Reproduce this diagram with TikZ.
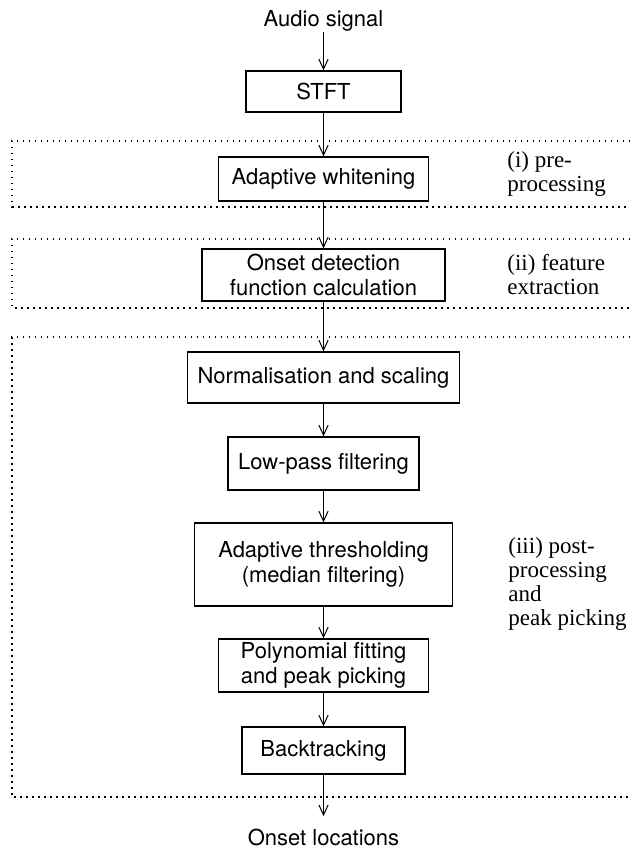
\documentclass[tikz,border=0pt]{standalone}
\usepackage{fontspec}
\setmainfont{Liberation Serif}
\newfontfamily\heros{TeX Gyre Heros}
\usetikzlibrary{arrows.meta}
\begin{document}
\begin{tikzpicture}[x=0.5pt,y=-0.5pt,
  box/.style={draw, line width=0.65pt, inner sep=0pt, align=center,
              font=\heros\fontsize{11}{12.2}\selectfont},
  flow/.style={line width=0.5pt, -{Straight Barb[length=5pt,width=4.6pt]}},
  stage/.style={line width=0.75pt, dash pattern=on 0.75pt off 2.25pt},
  lbl/.style={anchor=north west, inner sep=0pt, align=left,
              font=\fontsize{11.5}{12}\selectfont},
  term/.style={anchor=base, inner sep=0pt, font=\heros\fontsize{11}{12}\selectfont}]
\useasboundingbox (0,0) rectangle (630,855);

% stage frames (open to the right edge)
\draw[stage] (630,141) -- (12,141) -- (12,207) -- (630,207);
\draw[stage] (630,239) -- (12,239) -- (12,308) -- (630,308);
\draw[stage] (630,337) -- (12,337) -- (12,797) -- (630,797);

% terminals
\node[term] (audio) at (323.5,27) {Audio signal};
\node[term, inner sep=6pt] (onsets) at (323.5,845) {Onset locations};

% processing boxes
\node[box, minimum width=77.5pt, minimum height=20.5pt] (stft)  at (323.5,91.5)  {STFT};
\node[box, minimum width=105pt,  minimum height=22pt]   (white) at (323.5,179)   {Adaptive whitening};
\node[box, minimum width=121.5pt,minimum height=26pt]   (odf)   at (323.5,275)   {Onset detection\\function calculation};
\node[box, minimum width=136pt,  minimum height=25.5pt] (norm)  at (323.5,377.5) {Normalisation and scaling};
\node[box, minimum width=95.5pt, minimum height=26.5pt] (lowp)  at (323.5,463.5) {Low-pass filtering};
\node[box, minimum width=129pt,  minimum height=41.5pt] (thr)   at (323.5,564.5) {Adaptive thresholding\\(median filtering)};
\node[box, minimum width=105pt,  minimum height=26.5pt] (poly)  at (323.5,665.5) {Polynomial fitting\\and peak picking};
\node[box, minimum width=81.5pt, minimum height=23.5pt] (back)  at (323.5,750.5) {Backtracking};

% stage labels
\node[lbl] (lab1) at (507,151) {(i) pre-\\processing};
\node[lbl] (lab2) at (507,254) {(ii) feature\\extraction};
\node[lbl] (lab3) at (508,537) {(iii) post-\\processing\\and\\peak picking};

% connectors
\draw[flow] (audio.south) -- (stft.north);
\draw[flow] (stft.south)  -- (white.north);
\draw[flow] (white.south) -- (odf.north);
\draw[flow] (odf.south)   -- (norm.north);
\draw[flow] (norm.south)  -- (lowp.north);
\draw[flow] (lowp.south)  -- (thr.north);
\draw[flow] (thr.south)   -- (poly.north);
\draw[flow] (poly.south)  -- (back.north);
\draw[flow] (back.south)  -- (onsets.north);
\end{tikzpicture}
\end{document}
